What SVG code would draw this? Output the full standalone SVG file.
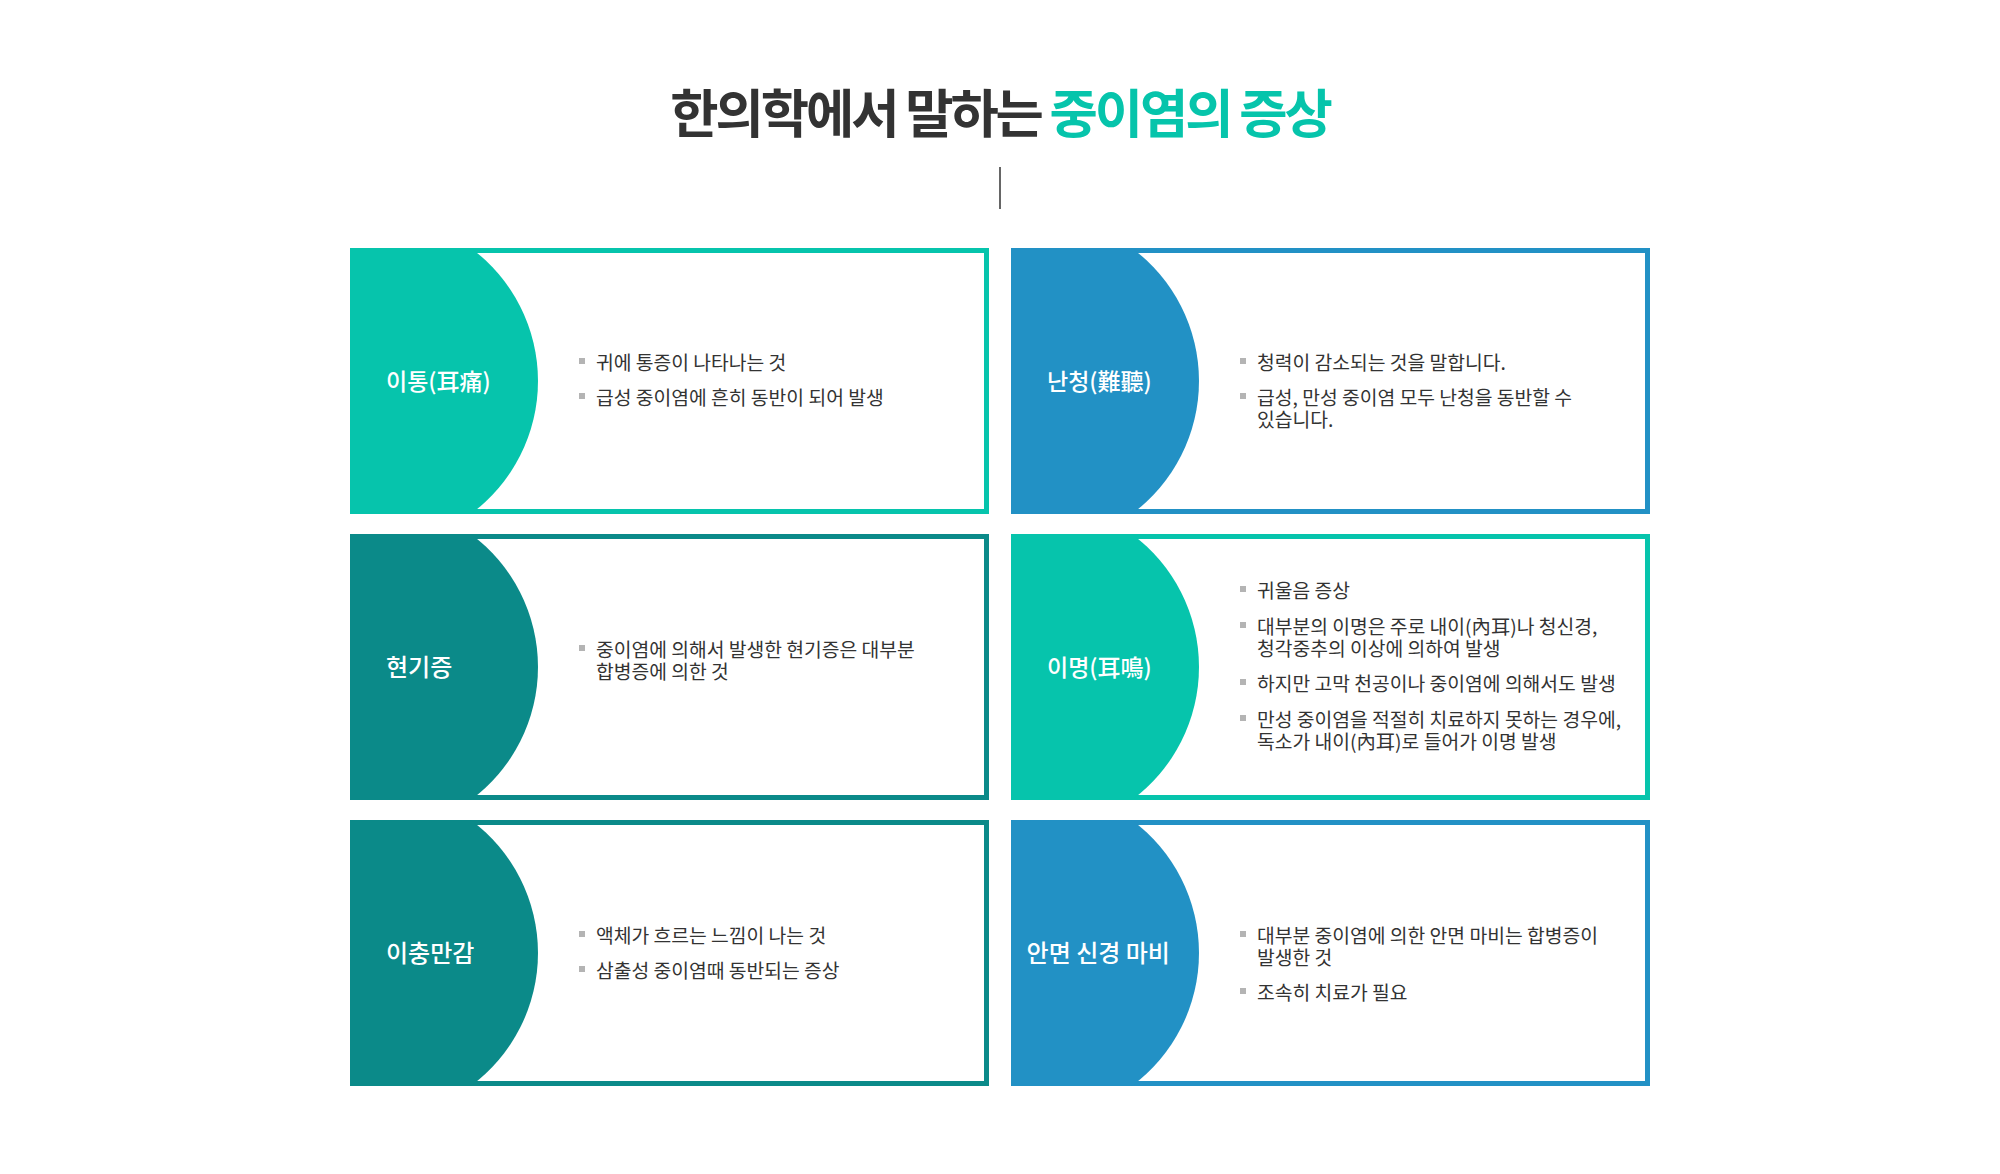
<svg xmlns="http://www.w3.org/2000/svg" width="2000" height="1174" viewBox="0 0 2000 1174">
  <defs>
    <style>
      .title { font-family: "Noto Sans CJK KR", "Noto Sans", sans-serif; font-size: 52.5px; font-weight: 700; letter-spacing: -3.1px; }
      .lbl { font-family: "Noto Sans CJK KR", "Noto Sans", sans-serif; font-size: 23px; font-weight: 500; fill: #ffffff; }
      .lbl24 { font-size: 24px; }
      .b { font-family: "Noto Sans CJK KR", "Noto Sans", sans-serif; font-size: 19.3px; fill: #333333; }
      .dot { fill: #b4b4b4; }
      .frame { fill: #ffffff; stroke-width: 5; }
      .teal .frame { stroke: #06c4ac; }
      .teal .half { fill: #06c4ac; }
      .blue .frame { stroke: #2291c5; }
      .blue .half { fill: #2291c5; }
      .dark .frame { stroke: #0b8a89; }
      .dark .half { fill: #0b8a89; }
    </style>
    <path id="halfshape" d="M0,0 H120.65 A165,165 0 0 1 120.65,266 H0 Z"/>
  </defs>
  <rect width="2000" height="1174" fill="#ffffff"/>

  <g id="title">
    <text class="title" x="1000" y="133" text-anchor="middle"><tspan fill="#333333">한의학에서 말하는 </tspan><tspan fill="#06c4ab">중이염의 증상</tspan></text>
  </g>

  <g id="connectors">
    <line x1="1000" y1="167" x2="1000" y2="209" stroke="#333333" stroke-width="1.5"/>
  </g>

  <g id="card-itong" class="teal" transform="translate(350,248)">
    <rect class="frame" x="2.5" y="2.5" width="634" height="261"/>
    <use href="#halfshape" class="half"/>
    <text class="lbl" x="36" y="141.5">이통(耳痛)</text>
    <rect class="dot" x="229" y="110" width="6" height="6"/>
    <text class="b" x="246" y="122">귀에 통증이 나타나는 것</text>
    <rect class="dot" x="229" y="145" width="6" height="6"/>
    <text class="b" x="246" y="157">급성 중이염에 흔히 동반이 되어 발생</text>
  </g>

  <g id="card-nancheong" class="blue" transform="translate(1011,248)">
    <rect class="frame" x="2.5" y="2.5" width="634" height="261"/>
    <use href="#halfshape" class="half"/>
    <text class="lbl" x="36" y="141.5">난청(難聽)</text>
    <rect class="dot" x="229" y="110" width="6" height="6"/>
    <text class="b" x="246" y="122">청력이 감소되는 것을 말합니다.</text>
    <rect class="dot" x="229" y="145" width="6" height="6"/>
    <text class="b" x="246" y="157">급성, 만성 중이염 모두 난청을 동반할 수<tspan x="246" dy="22">있습니다.</tspan></text>
  </g>

  <g id="card-hyeongijeung" class="dark" transform="translate(350,534)">
    <rect class="frame" x="2.5" y="2.5" width="634" height="261"/>
    <use href="#halfshape" class="half"/>
    <text class="lbl lbl24" x="36" y="141.5">현기증</text>
    <rect class="dot" x="229" y="111" width="6" height="6"/>
    <text class="b" x="246" y="123">중이염에 의해서 발생한 현기증은 대부분<tspan x="246" dy="22">합병증에 의한 것</tspan></text>
  </g>

  <g id="card-imyeong" class="teal" transform="translate(1011,534)">
    <rect class="frame" x="2.5" y="2.5" width="634" height="261"/>
    <use href="#halfshape" class="half"/>
    <text class="lbl" x="36" y="141.5">이명(耳鳴)</text>
    <rect class="dot" x="229" y="52" width="6" height="6"/>
    <text class="b" x="246" y="64">귀울음 증상</text>
    <rect class="dot" x="229" y="88" width="6" height="6"/>
    <text class="b" x="246" y="100">대부분의 이명은 주로 내이(內耳)나 청신경,<tspan x="246" dy="22">청각중추의 이상에 의하여 발생</tspan></text>
    <rect class="dot" x="229" y="145" width="6" height="6"/>
    <text class="b" x="246" y="157">하지만 고막 천공이나 중이염에 의해서도 발생</text>
    <rect class="dot" x="229" y="181" width="6" height="6"/>
    <text class="b" x="246" y="193">만성 중이염을 적절히 치료하지 못하는 경우에,<tspan x="246" dy="22">독소가 내이(內耳)로 들어가 이명 발생</tspan></text>
  </g>

  <g id="card-ichungmangam" class="dark" transform="translate(350,820)">
    <rect class="frame" x="2.5" y="2.5" width="634" height="261"/>
    <use href="#halfshape" class="half"/>
    <text class="lbl lbl24" x="36" y="141.5">이충만감</text>
    <rect class="dot" x="229" y="111" width="6" height="6"/>
    <text class="b" x="246" y="123">액체가 흐르는 느낌이 나는 것</text>
    <rect class="dot" x="229" y="146" width="6" height="6"/>
    <text class="b" x="246" y="158">삼출성 중이염때 동반되는 증상</text>
  </g>

  <g id="card-anmyeon" class="blue" transform="translate(1011,820)">
    <rect class="frame" x="2.5" y="2.5" width="634" height="261"/>
    <use href="#halfshape" class="half"/>
    <text class="lbl lbl24" x="15.6" y="141.5">안면 신경 마비</text>
    <rect class="dot" x="229" y="111" width="6" height="6"/>
    <text class="b" x="246" y="123">대부분 중이염에 의한 안면 마비는 합병증이<tspan x="246" dy="22">발생한 것</tspan></text>
    <rect class="dot" x="229" y="168" width="6" height="6"/>
    <text class="b" x="246" y="180">조속히 치료가 필요</text>
  </g>
</svg>
